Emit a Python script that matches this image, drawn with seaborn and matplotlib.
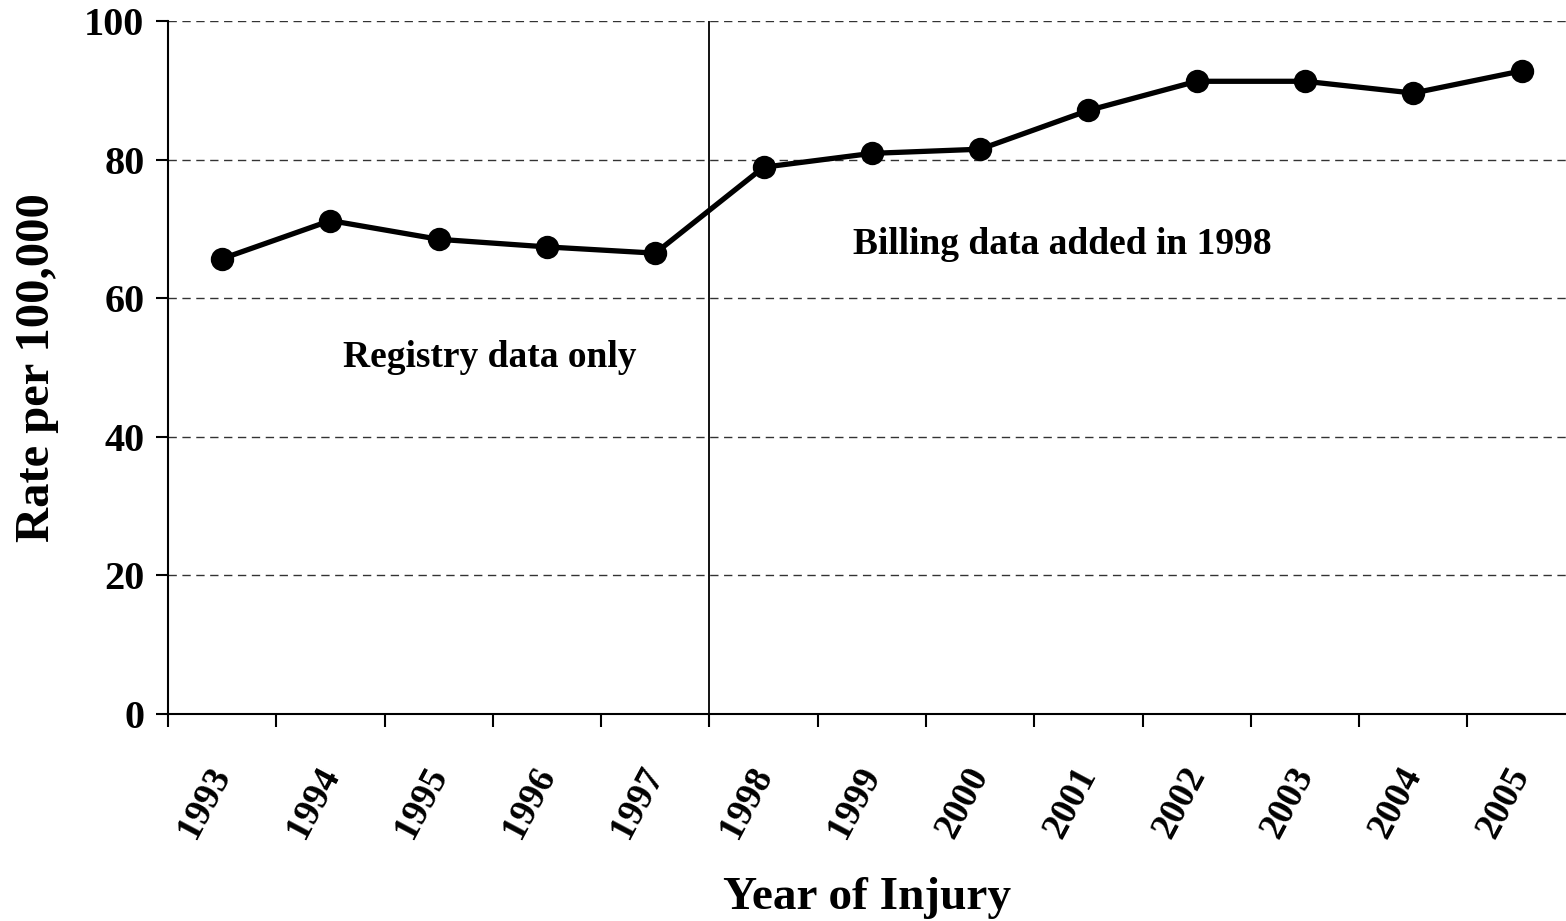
import numpy as np
import pandas as pd
import matplotlib
matplotlib.use("Agg")
import matplotlib.pyplot as plt
import seaborn as sns

# === DATA ===
years = ["1993", "1994", "1995", "1996", "1997", "1998", "1999",
         "2000", "2001", "2002", "2003", "2004", "2005"]
rates = [65.7, 71.2, 68.5, 67.4, 66.5, 78.9, 80.9,
         81.5, 87.1, 91.3, 91.3, 89.6, 92.8]
y_ticks = [0, 20, 40, 60, 80, 100]
note_left = "Registry data only"
note_right = "Billing data added in 1998"

df = pd.DataFrame({"year": years, "rate": rates})

# === STYLE ===
sns.set_style("white")
plt.rcParams["font.family"] = ["Liberation Serif", "DejaVu Serif"]
plt.rcParams["font.weight"] = "bold"
plt.rcParams["text.color"] = "black"
plt.rcParams["axes.labelcolor"] = "black"
plt.rcParams["xtick.color"] = "black"
plt.rcParams["ytick.color"] = "black"

fig = plt.figure(figsize=(15.66, 9.21), dpi=100)
ax = fig.add_axes([168 / 1566, 1 - 714 / 921, (1566 - 168) / 1566, (714 - 21) / 921])

sns.pointplot(data=df, x="year", y="rate", color="black",
              markersize=14, linewidth=3.8, ax=ax)

# --- axes ---
n = len(years)
ax.set_xlim(-0.5, 12.41)
ax.set_ylim(0, 100)
ax.set_yticks(y_ticks)
ax.set_yticklabels([str(v) for v in y_ticks], fontsize=29, fontweight="bold")
ax.set_xticks(np.arange(n) - 0.5)
ax.set_xticklabels([])
ax.set_xticks(np.arange(n), minor=True)
ax.set_xticklabels(years, minor=True, rotation=62, ha="right", va="center",
                   rotation_mode="anchor", fontsize=27, fontweight="bold")
ax.tick_params(axis="x", which="major", direction="out", length=9, width=1.5, color="black")
ax.tick_params(axis="x", which="minor", length=0, pad=40)
ax.tick_params(axis="y", direction="out", length=9, width=1.5, color="black", pad=8)
ax.tick_params(left=True, bottom=True)

for side in ["top", "right"]:
    ax.spines[side].set_visible(False)
for side in ["left", "bottom"]:
    ax.spines[side].set_color("black")
    ax.spines[side].set_linewidth(1.5)

# dashed gridlines
for v in y_ticks[1:]:
    ax.axhline(v, color="#333333", linewidth=1, linestyle=(0, (6, 4)), zorder=0)

# break between registry-only and billing data
ax.axvline(4.5, color="black", linewidth=1.3, zorder=1)

ax.text(2.47, 51.5, note_left, ha="center", va="center", fontsize=27, fontweight="bold")
ax.text(7.76, 67.7, note_right, ha="center", va="center", fontsize=27, fontweight="bold")

ax.set_xlabel("Year of Injury", fontsize=34, fontweight="bold", labelpad=24)
ax.set_ylabel("Rate per 100,000", fontsize=35, fontweight="bold", labelpad=18)

fig.savefig("out.png", dpi=100)
